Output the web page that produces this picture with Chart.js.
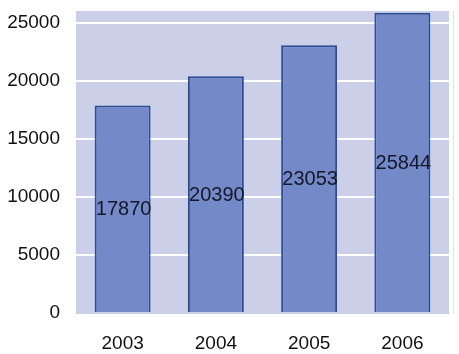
<!DOCTYPE html>
<html>
<head>
<meta charset="utf-8">
<script src="https://cdn.jsdelivr.net/npm/chart.js@4/dist/chart.umd.min.js"></script>
<style>
html,body{margin:0;padding:0;background:#fff}
#wrap{width:459px;height:354px}
</style>
</head>
<body>
<div id="wrap"><canvas id="c"></canvas></div>
<script>
// data
const years=["2003","2004","2005","2006"]
const values=[17870,20390,23053,25844]
const yTicks=[0,5000,10000,15000,20000,25000]

const plotBg="#cbcfe7"
const barFill="#7389c8"
const barEdge="#2c4d92"
const fontFam="'Liberation Sans', Arial, sans-serif"

// lavender plot area + faint line on the right
const areaBg={
id:"areaBg",
beforeDraw(chart){
const a=chart.chartArea, ctx=chart.ctx
ctx.save()
ctx.fillStyle=plotBg
ctx.fillRect(a.left,a.top,a.right-a.left,a.bottom-a.top+1)
ctx.strokeStyle="#e2e2e8"
ctx.lineWidth=1
ctx.beginPath()
ctx.moveTo(a.right+4.5,a.top)
ctx.lineTo(a.right+4.5,a.bottom)
ctx.stroke()
ctx.restore()
}
}

// value in the middle of each bar
const barText={
id:"barText",
afterDatasetsDraw(chart){
const ctx=chart.ctx
const meta=chart.getDatasetMeta(0)
ctx.save()
ctx.font="20px "+fontFam
ctx.fillStyle="#14182a"
ctx.textAlign="center"
ctx.textBaseline="middle"
meta.data.forEach((bar,i)=>{
const mid=(bar.y+bar.base)/2
ctx.fillText(String(values[i]),bar.x+1,mid+1)
})
ctx.restore()
}
}

new Chart(document.getElementById("c"),{
type:"bar",
data:{
labels:years,
datasets:[{
data:values,
backgroundColor:barFill,
borderColor:barEdge,
borderWidth:2,
barPercentage:0.6,
categoryPercentage:1
}]
},
options:{
responsive:true,
maintainAspectRatio:false,
animation:false,
layout:{padding:{left:0,right:10,top:11,bottom:0}},
plugins:{legend:{display:false},tooltip:{enabled:false}},
scales:{
x:{
grid:{display:false,drawTicks:false},
border:{display:false},
ticks:{color:"#111",font:{family:fontFam,size:19},padding:19},
afterFit(s){s.height=41;s.paddingLeft=0;s.paddingRight=0}
},
y:{
min:0,
max:26000,
afterBuildTicks(s){s.ticks=yTicks.map(v=>({value:v}))},
grid:{
color:c=>c.tick && c.tick.value===0?"rgba(0,0,0,0)":"#ffffff",
lineWidth:2,
drawTicks:false
},
border:{display:false},
ticks:{color:"#111",font:{family:fontFam,size:19},padding:16,callback:v=>String(v)},
afterFit(s){s.width=76;s.paddingTop=0;s.paddingBottom=0}
}
}
},
plugins:[areaBg,barText]
})
</script>
</body>
</html>
